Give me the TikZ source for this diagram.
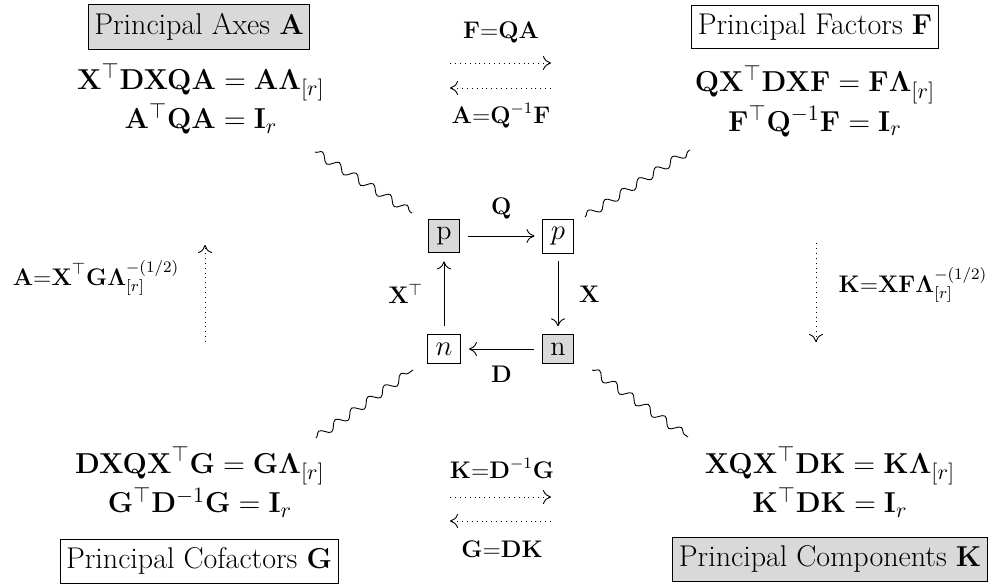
\documentclass[tikz,border=0pt]{standalone}
\usetikzlibrary{decorations.pathmorphing,arrows.meta}
\begin{document}
\begin{tikzpicture}[x=0.5pt,y=-0.5pt, line width=0.45pt,
  >={Computer Modern Rightarrow[length=4pt,width=7pt,line width=0.45pt]},
  lbl/.style={draw, inner xsep=3pt, inner ysep=4.3pt, font=\fontsize{15}{17}\selectfont},
  graylbl/.style={lbl, fill=black!15},
  eqn/.style={align=center, font=\fontsize{15.5}{16.5}\selectfont},
  sq/.style={draw, inner sep=4pt, font=\fontsize{14}{17}\selectfont},
  graysq/.style={sq, fill=black!15},
  arr/.style={->, shorten >=4pt, shorten <=4pt},
  sm/.style={font=\fontsize{11.5}{13}\selectfont},
  dotarr/.style={->, dotted},
  wig/.style={decorate, decoration={snake, amplitude=2pt, segment length=10pt}}]
\useasboundingbox (0,0) rectangle (992,585);

% corner labels
\node[graylbl] (A) at (199,27) {Principal Axes $\mathbf{A}$};
\node[lbl] (F) at (815,27) {Principal Factors $\mathbf{F}$};
\node[lbl] (G) at (199,561) {Principal Cofactors $\mathbf{G}$};
\node[graylbl] (K) at (830,559) {Principal Components $\mathbf{K}$};

% equations
\node[eqn] (eA) at (201,99) {$\mathbf{X}^\top\mathbf{DXQA} = \mathbf{A\Lambda}_{[r]}$\\ $\mathbf{A}^\top\mathbf{QA} = \mathbf{I}_r$};
\node[eqn] (eF) at (815,101) {$\mathbf{QX}^\top\mathbf{DXF} = \mathbf{F\Lambda}_{[r]}$\\ $\mathbf{F}^\top\mathbf{Q}^{-1}\mathbf{F} = \mathbf{I}_r$};
\node[eqn] (eG) at (200,482) {$\mathbf{DXQX}^\top\mathbf{G} = \mathbf{G\Lambda}_{[r]}$\\ $\mathbf{G}^\top\mathbf{D}^{-1}\mathbf{G} = \mathbf{I}_r$};
\node[eqn] (eK) at (830,482) {$\mathbf{XQX}^\top\mathbf{DK} = \mathbf{K\Lambda}_{[r]}$\\ $\mathbf{K}^\top\mathbf{DK} = \mathbf{I}_r$};

% center square
\node[graysq] (p1) at (444,236) {p};
\node[sq] (p2) at (558,236) {$p$};
\node[graysq] (n2) at (558,349) {n};
\node[sq] (n1) at (444,349) {$n$};

\draw[arr] (p1) -- node[sm, above=5pt] {$\mathbf{Q}$} (p2);
\draw[arr] (p2) -- node[sm, right=7pt] {$\mathbf{X}$} (n2);
\draw[arr] (n2) -- node[sm, below=5pt] {$\mathbf{D}$} (n1);
\draw[arr] (n1) -- node[sm, left=7pt] {$\mathbf{X}^\top$} (p1);

% wiggles
\coordinate (wA) at (315,152);
\coordinate (wA2) at (412,213);
\coordinate (wF) at (690,150);
\coordinate (wF2) at (585,217);
\coordinate (wG) at (316,438);
\coordinate (wG2) at (413,370);
\coordinate (wK) at (688,437);
\coordinate (wK2) at (592,370);
\draw[wig] (wA) -- (wA2);
\draw[wig] (wF2) -- (wF);
\draw[wig] (wG) -- (wG2);
\draw[wig] (wK2) -- (wK);

% top transitions
\node[sm] (tAF) at (501,33) {$\mathbf{F{=}QA}$};
\node[sm] (tFA) at (501,116) {$\mathbf{A{=}Q}^{-1}\mathbf{F}$};
\coordinate (ta1) at (450,63);
\coordinate (ta2) at (551,63);
\coordinate (tb1) at (551,88);
\coordinate (tb2) at (450,88);
\draw[dotarr] (ta1) -- (ta2);
\draw[dotarr] (tb1) -- (tb2);

% bottom transitions
\node[sm] (bGK) at (502,468) {$\mathbf{K{=}D}^{-1}\mathbf{G}$};
\node[sm] (bKG) at (502,549) {$\mathbf{G{=}DK}$};
\coordinate (ba1) at (450,497);
\coordinate (ba2) at (551,497);
\coordinate (bb1) at (551,521);
\coordinate (bb2) at (450,521);
\draw[dotarr] (ba1) -- (ba2);
\draw[dotarr] (bb1) -- (bb2);

% side transitions
\node[sm, anchor=base] (lGA) at (96,285) {$\mathbf{A{=}X}^\top\mathbf{G\Lambda}_{[r]}^{-(1/2)}$};
\coordinate (la1) at (205,342);
\coordinate (la2) at (205,245);
\draw[dotarr] (la1) -- (la2);
\node[sm, anchor=base] (rFK) at (913,292) {$\mathbf{K{=}XF\Lambda}_{[r]}^{-(1/2)}$};
\coordinate (ra1) at (816,243);
\coordinate (ra2) at (816,342);
\draw[dotarr] (ra1) -- (ra2);
\end{tikzpicture}
\end{document}
